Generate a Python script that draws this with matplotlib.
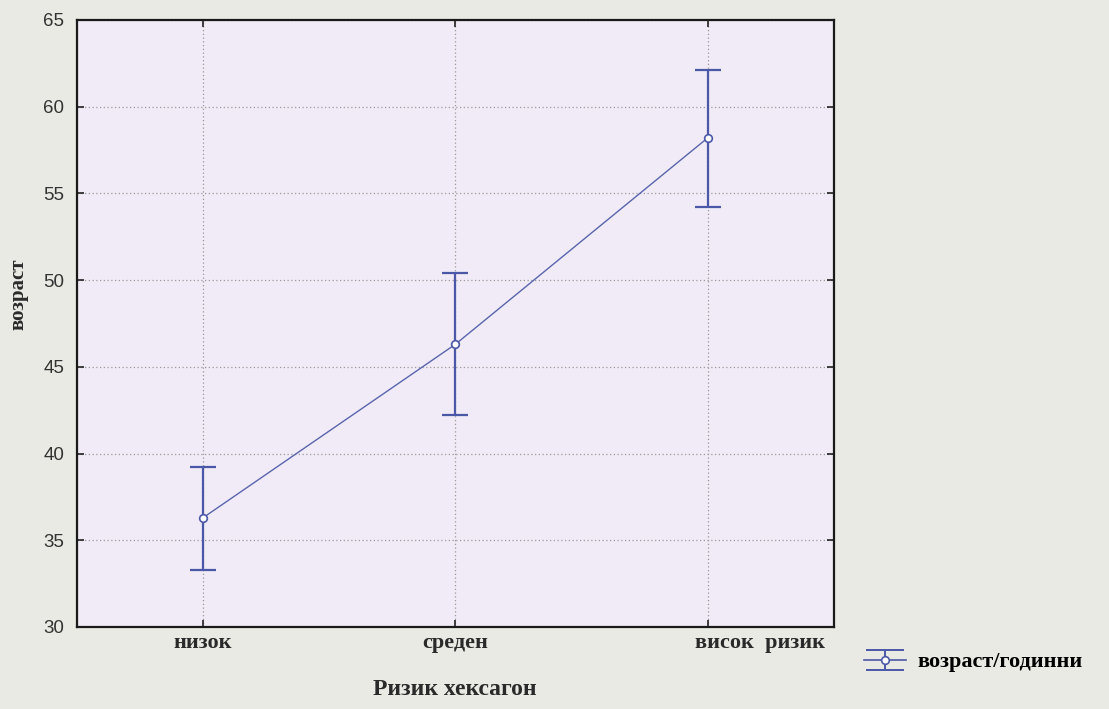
import matplotlib.pyplot as plt
import matplotlib.transforms as mtransforms
from matplotlib.lines import Line2D
from matplotlib.path import Path
from matplotlib.legend_handler import HandlerTuple

# data
categories = ['низок', 'среден', 'висок  ризик']
mean_age = [36.3, 46.3, 58.2]
err_low = [33.3, 42.2, 54.2]
err_high = [39.2, 50.4, 62.1]

BLUE = '#4b58a8'
FIG_BG = '#e8eae3'
AX_BG = '#f0ebf6'
SERIF = 'Liberation Serif'


def main():
    fig = plt.figure(figsize=(11.09, 7.09), dpi=100, facecolor=FIG_BG)
    ax = fig.add_axes([0.0694, 0.1157, 0.6826, 0.8563])
    ax.set_facecolor(AX_BG)

    x = list(range(len(categories)))
    lower = [m - lo for m, lo in zip(mean_age, err_low)]
    upper = [hi - m for m, hi in zip(mean_age, err_high)]

    ax.errorbar(x, mean_age, yerr=[lower, upper], fmt='none',
                ecolor=BLUE, elinewidth=1.6, capsize=9.5, capthick=1.6, zorder=3)
    ax.plot(x, mean_age, color='#5a64ae', lw=1.0, marker='o', ms=5.5,
            mfc='white', mec=BLUE, mew=1.2, zorder=4)

    ax.set_xlim(-0.5, 2.5)
    ax.set_ylim(30, 65)
    ax.set_xticks(x)
    ax.set_xticklabels(categories, fontfamily=SERIF, fontweight='bold',
                       fontsize=16, color='#2a2a2a')
    ax.set_yticks(range(30, 66, 5))
    ax.tick_params(axis='y', labelsize=13.5, colors='#333333', pad=9,
                   labelfontfamily='Liberation Sans')
    ax.tick_params(direction='in', length=5, width=1.2, top=True, right=True,
                   color='#222222')
    ax.tick_params(axis='x', pad=4)
    for lbl in ax.get_yticklabels():
        lbl.set_color('#333333')

    # last tick label sits right of its tick in the original
    last = ax.get_xticklabels()[-1]
    last.set_transform(last.get_transform() +
                       mtransforms.ScaledTranslation(0.52, 0, fig.dpi_scale_trans))

    ax.grid(True, linestyle=(0, (1, 2)), color='#9a9a9a', lw=0.9)
    for sp in ax.spines.values():
        sp.set_linewidth(1.6)
        sp.set_color('#1a1a1a')

    fig.text(0.41, 0.027, 'Ризик хексагон', fontfamily=SERIF,
             fontweight='bold', fontsize=17, ha='center', va='center',
             color='#2a2a2a')
    fig.text(0.017, 0.585, 'возраст', fontfamily=SERIF, fontweight='bold',
             fontsize=15, rotation=90, ha='center', va='center', color='#2a2a2a')

    # legend symbol: error bar with wide caps
    cap_path = Path([(-1, 0.5), (1, 0.5), (-1, -0.5), (1, -0.5), (0, 0.5), (0, -0.5)],
                    [Path.MOVETO, Path.LINETO, Path.MOVETO, Path.LINETO,
                     Path.MOVETO, Path.LINETO])
    caps = Line2D([], [], ls='none', marker=cap_path, ms=28, mec=BLUE, mew=1.4)
    mid = Line2D([], [], color=BLUE, lw=1.2, marker='o', ms=5.5,
                 mfc='white', mec=BLUE, mew=1.2)
    fig.legend([(caps, mid)], ['возраст/годинни'],
               handler_map={tuple: HandlerTuple(ndivide=1)},
               loc='center left', bbox_to_anchor=(0.761, 0.066),
               frameon=False, handlelength=1.9, handletextpad=0.5,
               prop={'family': SERIF, 'weight': 'bold', 'size': 16})

    fig.savefig('out.png', dpi=100, facecolor=FIG_BG)


main()
